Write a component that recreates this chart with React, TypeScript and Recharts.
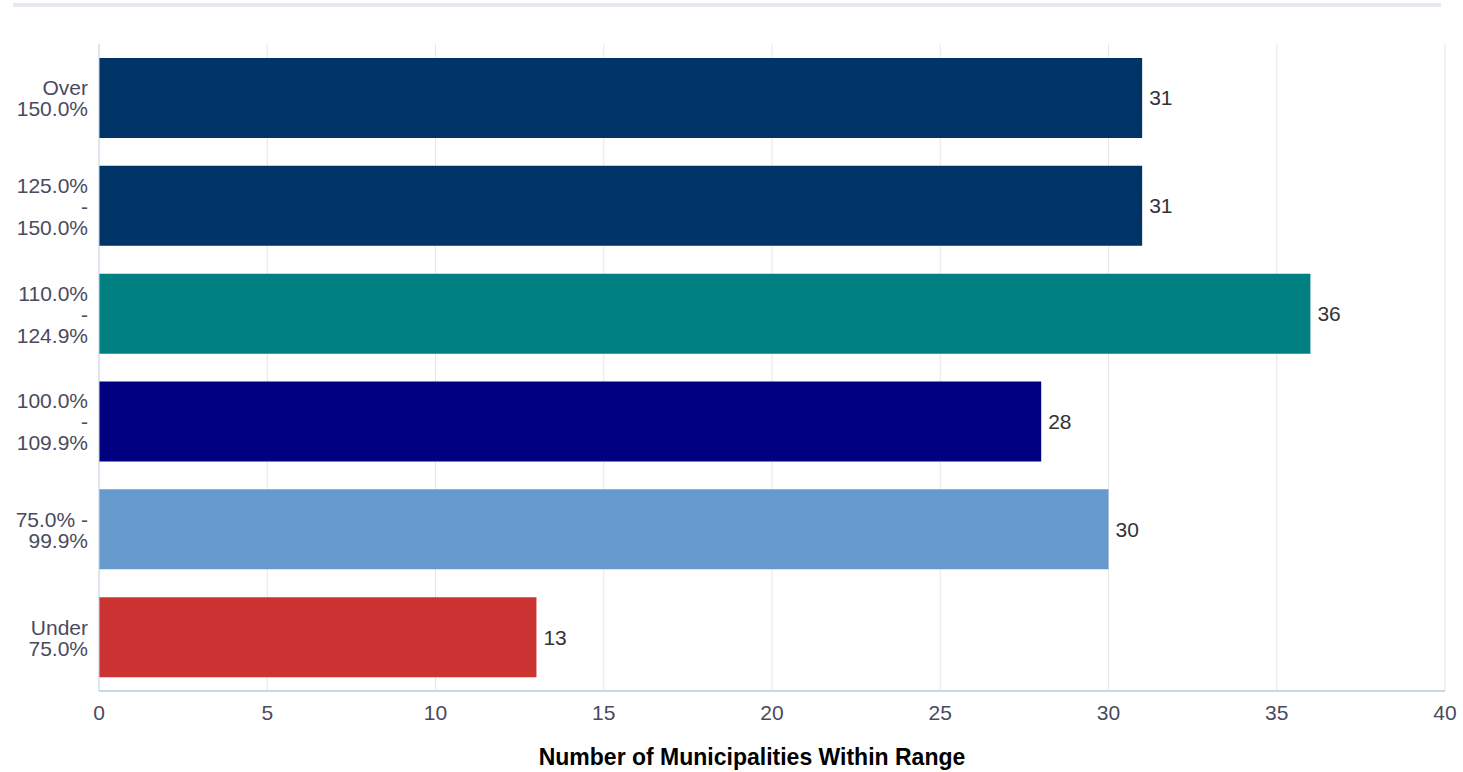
import React from "react"
import {
  BarChart,
  Bar,
  XAxis,
  YAxis,
  CartesianGrid,
  Cell,
  LabelList,
} from "recharts"

// Ranges, top to bottom, split into the lines shown on the axis
const rangeLabels: string[][] = [
  ["Over", "150.0%"],
  ["125.0%", "-", "150.0%"],
  ["110.0%", "-", "124.9%"],
  ["100.0%", "-", "109.9%"],
  ["75.0% -", "99.9%"],
  ["Under", "75.0%"],
]

const municipalityCounts = [31, 31, 36, 28, 30, 13]

const barColors = ["#003366", "#003366", "#008080", "#000080", "#6699cc", "#cc3333"]

const valueTicks = [0, 5, 10, 15, 20, 25, 30, 35, 40]

const data = rangeLabels.map((lines, i) => ({
  range: lines.join(" "),
  count: municipalityCounts[i],
}))

const FONT = '"Liberation Sans", Arial, Helvetica, sans-serif'
const LABEL_COLOR = "#4a4a5e"
const AXIS_COLOR = "#ccd6eb"

function RangeTick({ x, y, payload }: any) {
  const lines = rangeLabels[payload.index] ?? [String(payload.value)]
  const lineHeight = 21
  const first = y - ((lines.length - 1) * lineHeight) / 2
  return (
    <text
      x={x}
      y={first}
      textAnchor="end"
      dominantBaseline="central"
      fill={LABEL_COLOR}
      fontSize={21}
      fontFamily={FONT}
    >
      {lines.map((line, i) => (
        <tspan key={i} x={x} y={first + i * lineHeight}>
          {line}
        </tspan>
      ))}
    </text>
  )
}

function AxisTitle({ viewBox }: any) {
  const { x, y, width } = viewBox
  return (
    <text
      x={x + width / 2 - 20}
      y={y + 74}
      textAnchor="middle"
      fill="#000000"
      fontSize={23}
      fontWeight="bold"
      fontFamily={FONT}
    >
      Number of Municipalities Within Range
    </text>
  )
}

export default function App() {
  return (
    <div style={{ position: "absolute", left: 0, top: 0, width: 1463, height: 772, background: "#ffffff" }}>
      <div
        style={{
          position: "absolute",
          left: 13,
          top: 3,
          width: 1428,
          height: 4,
          background: "#e8e8ee",
        }}
      />
      <BarChart
        width={1463}
        height={772}
        data={data}
        layout="vertical"
        margin={{ top: 44, right: 18, bottom: 0, left: 0 }}
      >
        <CartesianGrid horizontal={false} stroke="#e6e6e6" />
        <XAxis
          type="number"
          domain={[0, 40]}
          ticks={valueTicks}
          height={81}
          tickLine={false}
          tickMargin={8}
          axisLine={{ stroke: AXIS_COLOR, strokeWidth: 2 }}
          tick={{ fill: LABEL_COLOR, fontSize: 21, fontFamily: FONT }}
          label={<AxisTitle />}
        />
        <YAxis
          type="category"
          dataKey="range"
          width={99}
          tickLine={false}
          tickMargin={5}
          axisLine={{ stroke: AXIS_COLOR, strokeWidth: 1 }}
          tick={<RangeTick />}
          interval={0}
        />
        <Bar dataKey="count" barSize={80} isAnimationActive={false}>
          {data.map((_, i) => (
            <Cell key={i} fill={barColors[i]} />
          ))}
          <LabelList
            dataKey="count"
            position="right"
            offset={7}
            fill="#333333"
            fontSize={21}
            fontFamily={FONT}
          />
        </Bar>
      </BarChart>
    </div>
  )
}
